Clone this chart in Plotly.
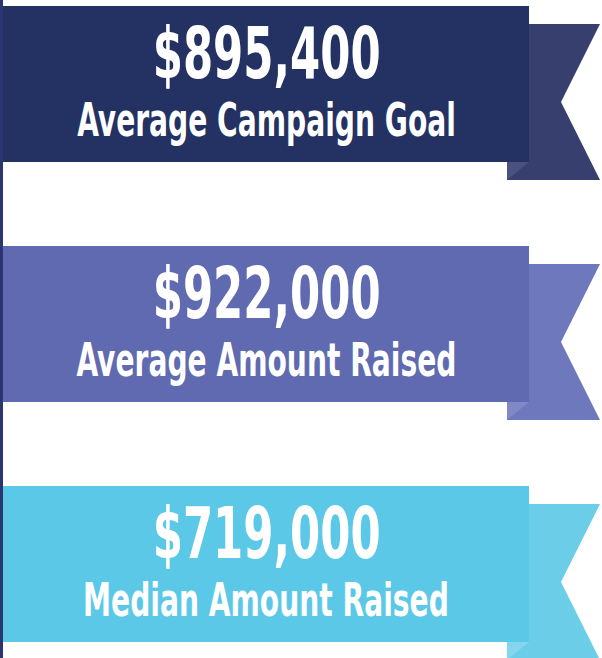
import plotly.graph_objects as go

# ---- data ----
values = ["$895,400", "$922,000", "$719,000"]
labels = ["Average Campaign Goal", "Average Amount Raised", "Median Amount Raised"]
main_colors = ["#233163", "#5f6ab0", "#5bc8e8"]
tail_colors = ["#373f6e", "#6d78bd", "#6ccde9"]
fold_colors = ["#4a5282", "#8088c6", "#86d5ee"]

W, H = 602, 658
FONT = "DejaVu Sans Condensed, Liberation Sans Narrow, DejaVu Sans"
fig = go.Figure()

shapes = []
annotations = []
top0, step, rect_h = 6, 240, 156
x_left, x_right = 3, 529
tail_x0, tail_x1, notch_x, tail_off = 507, 600, 561, 18

for i, (val, lab) in enumerate(zip(values, labels)):
    t = top0 + i * step
    b = t + rect_h
    tt, tb = t + tail_off, b + tail_off
    mid = (tt + tb) / 2
    shapes.append(dict(type="path", xref="x", yref="y", layer="above",
                       path=f"M{x_right},{tt} L{tail_x1},{tt} L{notch_x},{mid} L{tail_x1},{tb} L{tail_x0},{tb} L{tail_x0},{b} L{x_right},{b} Z",
                       fillcolor=tail_colors[i], line=dict(width=0)))
    shapes.append(dict(type="path", xref="x", yref="y", layer="above",
                       path=f"M{tail_x0},{b} L{x_right},{b} L{tail_x0},{tb} Z",
                       fillcolor=fold_colors[i], line=dict(width=0)))
    shapes.append(dict(type="rect", xref="x", yref="y", layer="above",
                       x0=x_left, x1=x_right, y0=t, y1=b,
                       fillcolor=main_colors[i], line=dict(width=0)))
    cx = (x_left + x_right) / 2
    annotations.append(dict(x=cx, y=t + 47, xref="x", yref="y", text=val,
                            showarrow=False, yanchor="middle", xanchor="center",
                            font=dict(family=FONT, size=71, color="white", weight="bold")))
    annotations.append(dict(x=cx, y=t + 114, xref="x", yref="y", text=lab,
                            showarrow=False, yanchor="middle", xanchor="center",
                            font=dict(family=FONT, size=46, color="white", weight="bold")))

shapes.append(dict(type="rect", xref="x", yref="y", layer="above",
                   x0=0, x1=3, y0=0, y1=H, fillcolor="#2b3570", line=dict(width=0)))

fig.update_layout(width=W, height=H, margin=dict(l=0, r=0, t=0, b=0),
                  paper_bgcolor="white", plot_bgcolor="white",
                  xaxis=dict(range=[0, W], visible=False, fixedrange=True),
                  yaxis=dict(range=[H, 0], visible=False, fixedrange=True),
                  shapes=shapes, annotations=annotations, showlegend=False)

post = (
    "document.body.style.margin='0';document.body.style.overflow='hidden';"
    "var s=document.createElement('style');"
    "s.textContent='text.annotation-text{transform:scaleX(0.68);transform-box:fill-box;transform-origin:center;}';"
    "document.head.appendChild(s);"
)
fig.write_html("out.html", config={"displayModeBar": False}, post_script=post)
